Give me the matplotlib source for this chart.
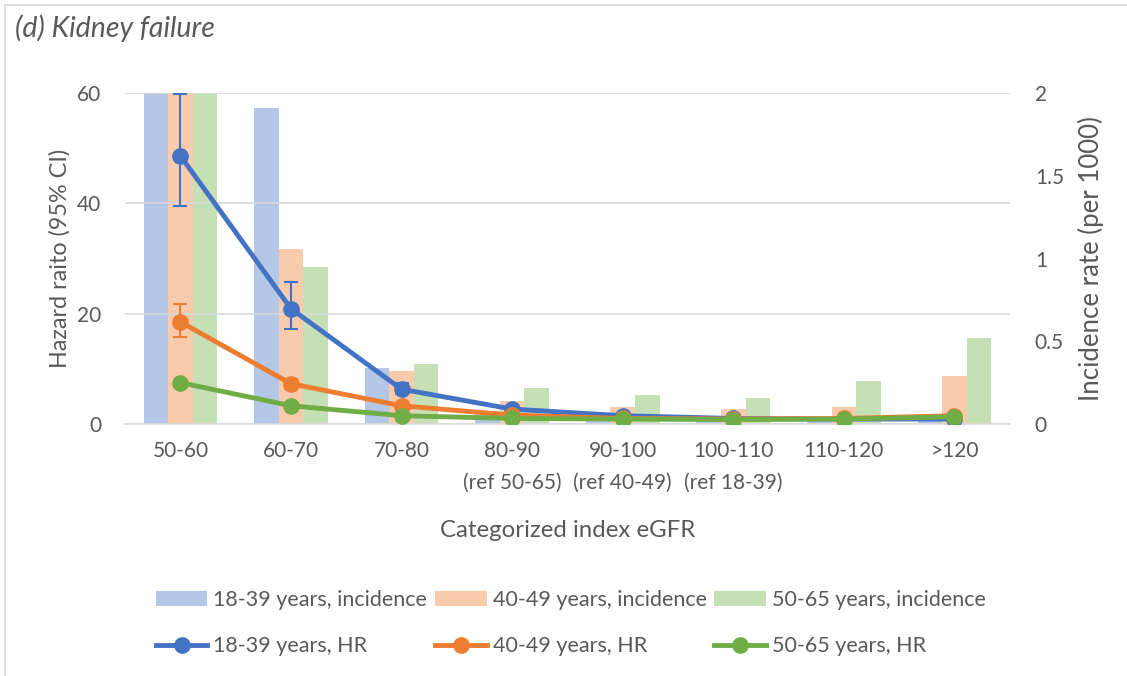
import numpy as np
import matplotlib.pyplot as plt
from matplotlib.lines import Line2D

plt.rcParams['font.family'] = ['Lato', 'DejaVu Sans']

# categories on the x axis
categories = ['50-60', '60-70', '70-80', '80-90\n(ref 50-65)', '90-100\n(ref 40-49)',
              '100-110\n(ref 18-39)', '110-120', '>120']

# incidence per 1000 (right axis); first group runs off the top of the axis
inc_18_39 = [3.2, 1.91, 0.34, 0.08, 0.05, 0.03, 0.03, 0.03]
inc_40_49 = [2.6, 1.06, 0.32, 0.14, 0.10, 0.09, 0.105, 0.29]
inc_50_65 = [2.4, 0.95, 0.36, 0.22, 0.175, 0.16, 0.26, 0.52]

# hazard ratios (left axis) with 95% CI
hr_18_39 = [48.6, 20.9, 6.3, 2.7, 1.5, 1.0, 0.9, 0.9]
lo_18_39 = [39.5, 17.2, 5.4, 2.2, 1.2, 1.0, 0.7, 0.6]
hi_18_39 = [59.8, 25.7, 7.4, 3.2, 1.9, 1.0, 1.1, 1.3]
hr_40_49 = [18.5, 7.3, 3.3, 1.6, 1.0, 0.9, 1.0, 1.5]
lo_40_49 = [15.7, 6.4, 2.9, 1.4, 1.0, 0.8, 0.9, 1.3]
hi_40_49 = [21.8, 8.2, 3.7, 1.8, 1.0, 1.0, 1.1, 1.7]
hr_50_65 = [7.5, 3.3, 1.5, 1.0, 0.9, 0.8, 0.9, 1.3]

BAR_COLORS = ['#B4C7E7', '#F8CBAD', '#C5E0B4']
LINE_COLORS = ['#4472C4', '#ED7D31', '#70AD47']
TXT = '#595959'

fig = plt.figure(figsize=(11.27, 6.76), dpi=100)
ax = fig.add_axes([0.111, 0.3728, 0.785, 0.4896])
ax2 = ax.twinx()

x = np.arange(len(categories))
w = 0.222

# bars on the secondary axis, drawn behind the lines
for i, (vals, lab) in enumerate(zip([inc_18_39, inc_40_49, inc_50_65],
                                    ['18-39 years, incidence', '40-49 years, incidence',
                                     '50-65 years, incidence'])):
    ax2.bar(x + (i - 1) * w, vals, width=w, color=BAR_COLORS[i], label=lab, zorder=1)
ax2.set_ylim(0, 2)
ax2.set_yticks([0, 0.5, 1, 1.5, 2])
ax2.set_yticklabels(['0', '0.5', '1', '1.5', '2'])
ax2.set_ylabel('Incidence rate (per 1000)', fontsize=18.5, color=TXT, labelpad=10)

# put the HR axis on top
ax.set_zorder(ax2.get_zorder() + 1)
ax.patch.set_visible(False)

for i, (hr, lo, hi) in enumerate([(hr_18_39, lo_18_39, hi_18_39),
                                   (hr_40_49, lo_40_49, hi_40_49)]):
    err = [np.array(hr) - np.array(lo), np.array(hi) - np.array(hr)]
    ax.errorbar(x, hr, yerr=err, fmt='none', ecolor=LINE_COLORS[i], elinewidth=1.5,
                capsize=5, capthick=1.5, zorder=2)
for i, hr in enumerate([hr_18_39, hr_40_49, hr_50_65]):
    ax.plot(x, hr, color=LINE_COLORS[i], lw=3.5, marker='o', markersize=11, zorder=3)

ax.set_ylim(0, 60)
ax.set_yticks([0, 20, 40, 60])
ax.set_xlim(-0.5, len(categories) - 0.5)
ax.set_xticks(x)
ax.set_xticklabels(categories, linespacing=1.75)
ax.set_ylabel('Hazard raito (95% CI)', fontsize=16.8, color=TXT, labelpad=5)
ax.set_xlabel('Categorized index eGFR', fontsize=17.3, color=TXT, labelpad=20)
ax.grid(axis='y', color='#D9D9D9', lw=1.2)
ax.set_axisbelow(True)

for a in (ax, ax2):
    for s in a.spines.values():
        s.set_visible(False)
    a.tick_params(length=0, labelsize=15, colors=TXT)
ax.spines['bottom'].set_visible(True)
ax.spines['bottom'].set_color('#D9D9D9')
ax.spines['bottom'].set_linewidth(1.2)
ax.tick_params(axis='x', pad=12)
ax.tick_params(axis='y', pad=17)
ax2.tick_params(axis='y', pad=18)

fig.text(0.013, 0.958, '(d) Kidney failure', fontsize=20.5, style='italic', color=TXT,
         va='center')

# legend: bars on the first row, HR lines on the second
bar_h, bar_l = ax2.get_legend_handles_labels()
line_h = [Line2D([], [], color=c, lw=3.5, marker='o', markersize=11) for c in LINE_COLORS]
line_l = ['18-39 years, HR', '40-49 years, HR', '50-65 years, HR']
handles, labels = [], []
for i in range(3):
    handles += [bar_h[i], line_h[i]]
    labels += [bar_l[i], line_l[i]]
fig.legend(handles, labels, ncol=3, loc='center left', bbox_to_anchor=(0.121, 0.078),
           frameon=False, fontsize=15.5, labelcolor=TXT, handlelength=2.4,
           handletextpad=0.28, columnspacing=0.35, labelspacing=1.2)

# chart area border (left and top visible)
fig.add_artist(Line2D([0.004, 0.004], [0, 0.993], color='#D9D9D9', lw=1.2))
fig.add_artist(Line2D([0.004, 1], [0.993, 0.993], color='#D9D9D9', lw=1.2))

fig.savefig('out.png', dpi=100)
